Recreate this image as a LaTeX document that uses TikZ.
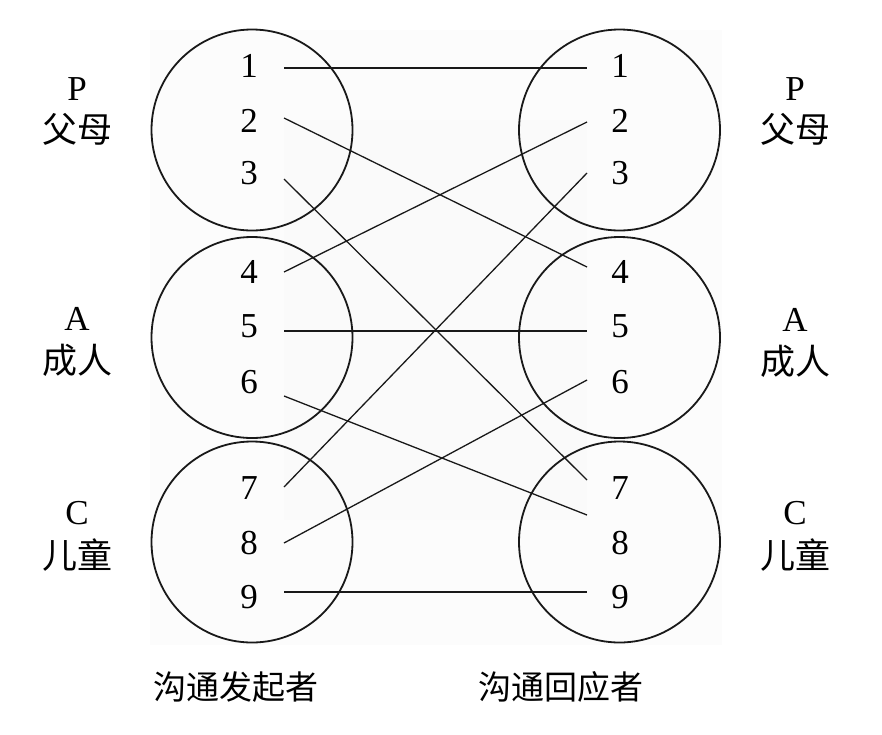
\documentclass[tikz,border=0pt]{standalone}
\usepackage{fontspec}
\setmainfont{Liberation Serif}
\newfontfamily\cjk{Noto Sans CJK SC}
\begin{document}
\begin{tikzpicture}[x=1pt,y=-1pt,
  ring/.style={draw=black!90,line width=1.8pt},
  num/.style={inner sep=0pt,font=\fontsize{35}{38}\selectfont},
  lat/.style={inner sep=0pt,font=\fontsize{35}{38}\selectfont},
  han/.style={inner sep=0pt,font=\cjk\fontsize{35}{38}\selectfont},
  caption/.style={inner sep=0pt,font=\cjk\fontsize{33}{36}\selectfont},
  link/.style={draw=black!90,line width=1.3pt}]
\useasboundingbox (0,0) rectangle (882,734);
\fill[black!1] (150,30) rectangle (722,645);
\fill[black!2] (284,120) rectangle (587,520);
% circles
\draw[ring] (252,130) circle (100.5);
\draw[ring] (252,337.5) circle (100.5);
\draw[ring] (252,542) circle (100.5);
\draw[ring] (619.5,130) circle (100.5);
\draw[ring] (619.5,337.5) circle (100.5);
\draw[ring] (619.5,542) circle (100.5);
% numbers left
\node[num] (a1) at (249,66) {1};
\node[num] (a2) at (249,121) {2};
\node[num] (a3) at (249,173) {3};
\node[num] (a4) at (249,272) {4};
\node[num] (a5) at (249,326) {5};
\node[num] (a6) at (249,382) {6};
\node[num] (a7) at (249,488) {7};
\node[num] (a8) at (249,543) {8};
\node[num] (a9) at (249,597) {9};
% numbers right
\node[num] (b1) at (620,66) {1};
\node[num] (b2) at (620,121) {2};
\node[num] (b3) at (620,173) {3};
\node[num] (b4) at (620,272) {4};
\node[num] (b5) at (620,326) {5};
\node[num] (b6) at (620,382) {6};
\node[num] (b7) at (620,488) {7};
\node[num] (b8) at (620,543) {8};
\node[num] (b9) at (620,597) {9};
% line ends
\coordinate (L1) at (284,68);
\coordinate (L2) at (284,118);
\coordinate (L3) at (284,179);
\coordinate (L4) at (284,272);
\coordinate (L5) at (284,331);
\coordinate (L6) at (284,396);
\coordinate (L7) at (284,487);
\coordinate (L8) at (284,543);
\coordinate (L9) at (284,592);
\coordinate (R1) at (587,68);
\coordinate (R2) at (587,122);
\coordinate (R3) at (587,173);
\coordinate (R4) at (587,267);
\coordinate (R5) at (587,331);
\coordinate (R6) at (587,380);
\coordinate (R7) at (587,480);
\coordinate (R8) at (587,515);
\coordinate (R9) at (587,592);
% connectors
\draw[link] (L1) -- (R1);
\draw[link] (L2) -- (R4);
\draw[link] (L3) -- (R7);
\draw[link] (L4) -- (R2);
\draw[link] (L5) -- (R5);
\draw[link] (L6) -- (R8);
\draw[link] (L7) -- (R3);
\draw[link] (L8) -- (R6);
\draw[link] (L9) -- (R9);
% side labels left
\node[lat] (pl) at (77,89) {P};
\node[han] (pl2) at (77,129) {父母};
\node[lat] (al) at (77,319) {A};
\node[han] (al2) at (77,360) {成人};
\node[lat] (cl) at (77,513) {C};
\node[han] (cl2) at (77,555) {儿童};
% side labels right
\node[lat] (pr) at (795,89) {P};
\node[han] (pr2) at (795,129) {父母};
\node[lat] (ar) at (795,320) {A};
\node[han] (ar2) at (795,361) {成人};
\node[lat] (cr) at (795,513) {C};
\node[han] (cr2) at (795,555) {儿童};
% bottom captions
\node[caption] (c1) at (236,687) {沟通发起者};
\node[caption] (c2) at (561,687) {沟通回应者};
\end{tikzpicture}
\end{document}
